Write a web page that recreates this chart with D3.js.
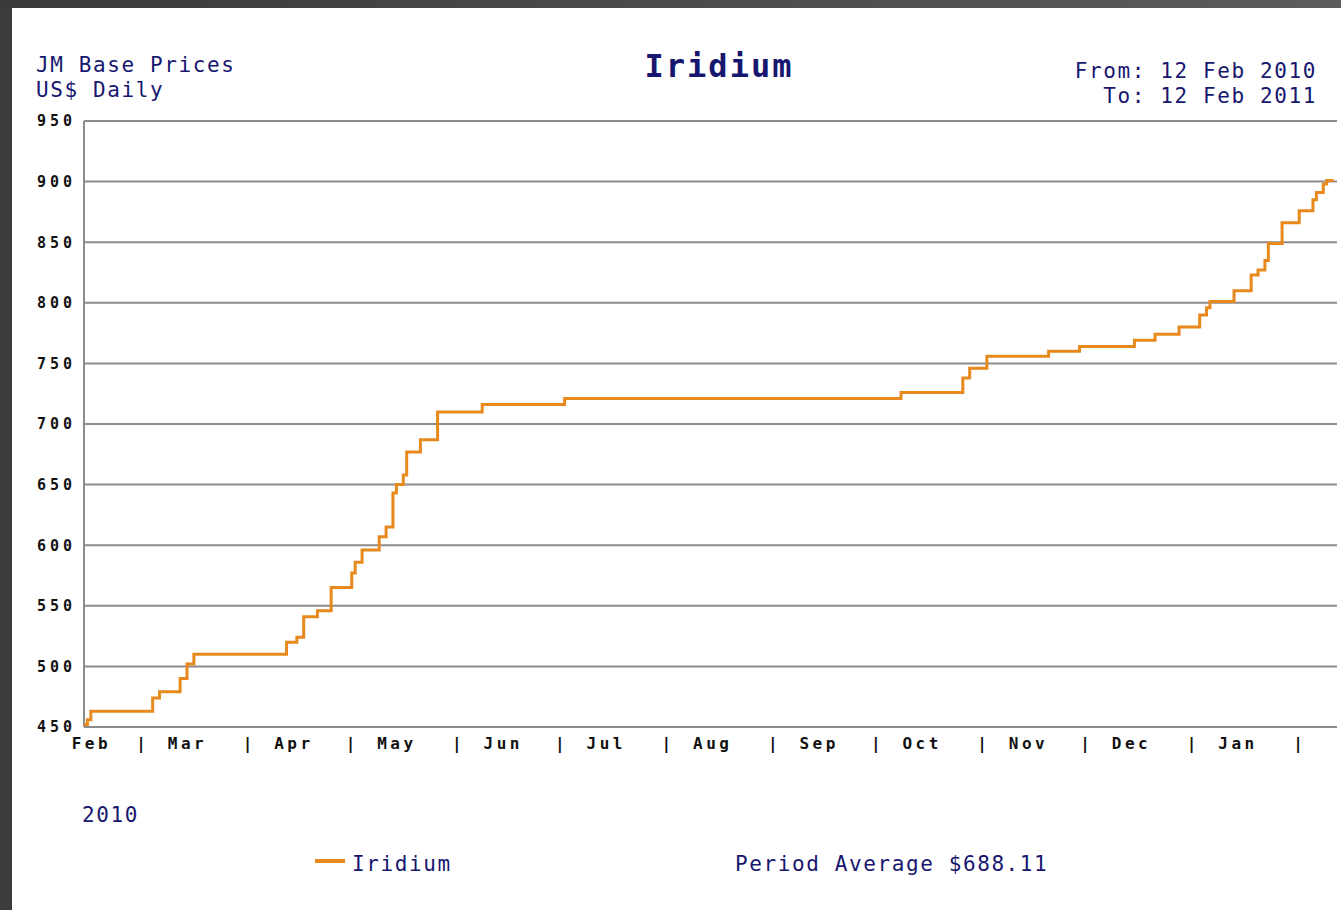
<!DOCTYPE html>
<html>
<head>
<meta charset="utf-8">
<script src="https://d3js.org/d3.v7.min.js"></script>
<style>
  body { margin: 0; background: #3c3c3c; }
  text { font-family: "DejaVu Sans Mono", monospace; }
</style>
</head>
<body>
<script>
// data: price change points (step line)
const dates = ["2010-02-12","2010-02-13","2010-02-14","2010-03-04","2010-03-06","2010-03-12","2010-03-14","2010-03-16",
  "2010-04-12","2010-04-15","2010-04-17","2010-04-21","2010-04-25","2010-05-01","2010-05-02","2010-05-04",
  "2010-05-09","2010-05-11","2010-05-13","2010-05-14","2010-05-16","2010-05-17","2010-05-21","2010-05-26",
  "2010-06-08","2010-07-02","2010-10-08","2010-10-26","2010-10-28","2010-11-02","2010-11-20","2010-11-29",
  "2010-12-15","2010-12-21","2010-12-28","2011-01-03","2011-01-05","2011-01-06","2011-01-13","2011-01-18",
  "2011-01-20","2011-01-22","2011-01-23","2011-01-27","2011-02-01","2011-02-05","2011-02-06","2011-02-08",
  "2011-02-09","2011-02-11"];
const prices = [452,456,463,474,479,490,502,510,
  520,524,541,546,565,577,586,596,
  607,615,643,650,658,677,687,710,
  716,721,726,738,746,756,760,764,
  769,774,780,790,796,801,810,823,
  827,835,849,866,876,885,891,898,
  901,901];

const yTicks = [450,500,550,600,650,700,750,800,850,900,950];
const monthLabels = ["Feb","Mar","Apr","May","Jun","Jul","Aug","Sep","Oct","Nov","Dec","Jan"];
const startDate = "2010-02-12", endDate = "2011-02-12";
const periodAverage = 688.11;

const navy = "#17176f", orange = "#e8891e", grid = "#8c8c8c";

// set the dimensions and margins of the graph
const W = 1341, H = 910;
const margin = {top: 121, right: 4, bottom: 183, left: 84},
    width = W - margin.left - margin.right,
    height = H - margin.top - margin.bottom;

const parse = d3.timeParse("%Y-%m-%d");
const data = dates.map((d, i) => ({date: parse(d), price: prices[i]}));

const svg = d3.select("body")
  .append("svg")
    .attr("width", W)
    .attr("height", H)
    .style("display", "block");

// dark frame round the white card
const grad = svg.append("defs").append("linearGradient").attr("id", "topbar");
grad.append("stop").attr("offset", "0%").attr("stop-color", "#3a3a3a");
grad.append("stop").attr("offset", "100%").attr("stop-color", "#5c5c5c");
svg.append("rect").attr("width", W).attr("height", 8).attr("fill", "url(#topbar)");
svg.append("rect").attr("x", 12).attr("y", 8).attr("width", W - 12).attr("height", H - 8).attr("fill", "white");

const g = svg.append("g")
  .attr("transform", `translate(${margin.left}, ${margin.top})`);

// scales
const x = d3.scaleTime()
  .domain([parse(startDate), parse(endDate)])
  .range([0, width]);
const y = d3.scaleLinear()
  .domain([450, 950])
  .range([height, 0]);

// horizontal grid lines
g.selectAll(".grid")
  .data(yTicks)
  .enter()
  .append("line")
    .attr("x1", 0)
    .attr("x2", width)
    .attr("y1", d => y(d))
    .attr("y2", d => y(d))
    .attr("stroke", grid)
    .attr("stroke-width", 2);
// left axis line
g.append("line")
  .attr("x1", 0).attr("x2", 0)
  .attr("y1", 0).attr("y2", height)
  .attr("stroke", grid)
  .attr("stroke-width", 2);

// Y axis labels
const yAxis = g.append("g")
  .call(d3.axisLeft(y).tickValues(yTicks).tickSize(0).tickPadding(8));
yAxis.select(".domain").remove();
yAxis.selectAll("text")
  .attr("fill", "#111")
  .style("font-family", "DejaVu Sans Mono")
  .style("font-size", "15px")
  .style("font-weight", "bold")
  .style("letter-spacing", "4px");

// X axis: "|" separators at month starts, names mid month
const monthStarts = d3.timeMonth.range(d3.timeMonth.ceil(parse(startDate)), parse(endDate));
const sepAxis = g.append("g")
  .attr("transform", `translate(0, ${height})`)
  .call(d3.axisBottom(x).tickValues(monthStarts).tickSize(0).tickPadding(11).tickFormat(() => "|"));
sepAxis.select(".domain").remove();

const monthMids = monthLabels.map((m, i) => d3.timeDay.offset(d3.timeMonth.offset(d3.timeMonth.floor(parse(startDate)), i), 13));
const monthAxis = g.append("g")
  .attr("transform", `translate(0, ${height})`)
  .call(d3.axisBottom(x).tickValues(monthMids).tickSize(0).tickPadding(11).tickFormat((d, i) => monthLabels[i]));
monthAxis.select(".domain").remove();

[sepAxis, monthAxis].forEach(a => a.selectAll("text")
  .attr("fill", "#111")
  .style("font-family", "DejaVu Sans Mono")
  .style("font-size", "16px")
  .style("font-weight", "bold")
  .style("letter-spacing", "3.5px"));

// the price line
g.append("path")
  .datum(data)
  .attr("d", d3.line()
    .x(d => x(d.date))
    .y(d => y(d.price))
    .curve(d3.curveStepAfter))
  .attr("fill", "none")
  .attr("stroke", orange)
  .attr("stroke-width", 3);

// titles
const txt = (tx, ty, s, anchor, size, weight) => svg.append("text")
  .attr("x", tx).attr("y", ty)
  .attr("text-anchor", anchor || "start")
  .attr("fill", navy)
  .style("font-size", (size || 21) + "px")
  .style("font-weight", weight || "normal")
  .style("letter-spacing", "1.6px")
  .text(s);

txt(36, 72, "JM Base Prices");
txt(36, 97, "US$ Daily");
txt(719, 77, "Iridium", "middle", 32, "bold").style("letter-spacing", "2px");
const fmtDate = d3.timeFormat("%d %b %Y");
txt(1317, 78, "From: " + fmtDate(parse(startDate)), "end");
txt(1317, 103, "To: " + fmtDate(parse(endDate)), "end");
txt(82, 822, d3.timeFormat("%Y")(parse(startDate)));

// legend
svg.append("line")
  .attr("x1", 315).attr("x2", 345)
  .attr("y1", 861).attr("y2", 861)
  .attr("stroke", orange)
  .attr("stroke-width", 4);
txt(352, 871, "Iridium");
txt(735, 871, "Period Average $" + periodAverage.toFixed(2));
</script>
</body>
</html>
